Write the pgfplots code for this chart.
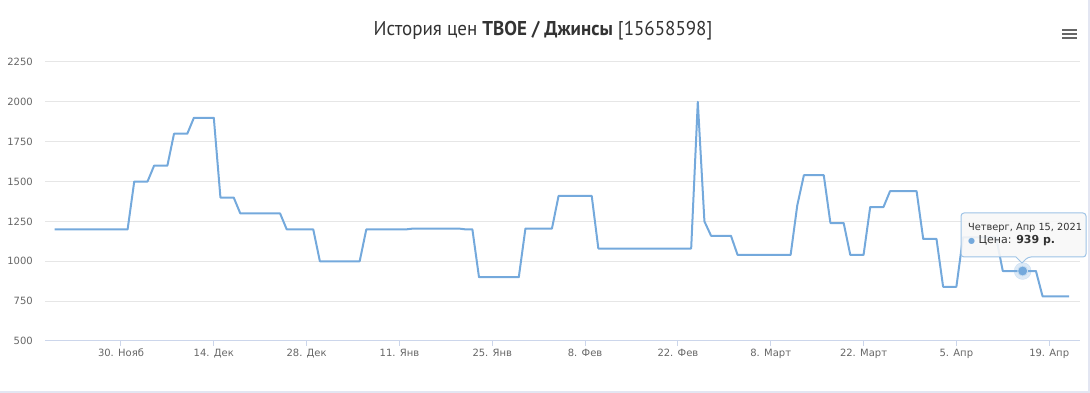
\documentclass[border=0pt]{standalone}
\usepackage{fontspec}
\setmainfont{DejaVu Sans}
\newfontfamily\titlefont[FakeStretch=0.95]{PT Sans}
\usepackage{pgfplots}
\pgfplotsset{compat=1.18}
\definecolor{hcblue}{HTML}{74A9DC}
\definecolor{gridc}{HTML}{E6E6E6}
\definecolor{axisc}{HTML}{CCD6EB}
\definecolor{labc}{HTML}{666666}
\definecolor{titc}{HTML}{333333}
\definecolor{framec}{HTML}{E3E6F2}
\definecolor{tipbg}{HTML}{F7F7F7}
\begin{document}
\begin{tikzpicture}[x=1pt,y=1pt]
\path[use as bounding box] (0,0) rectangle (1090,393);
\begin{axis}[
  at={(45pt,52pt)}, anchor=south west,
  scale only axis, width=1035pt, height=279pt,
  xmin=-11.46, xmax=144.65, ymin=500, ymax=2250,
  axis lines=left, axis line style={-},
  x axis line style={draw=axisc, line width=1pt},
  y axis line style={draw=none},
  ytick={500,750,...,2250},
  ymajorgrids, grid style={gridc, line width=1pt},
  xtick={0,14,...,140},
  xticklabels={30. Нояб,14. Дек,28. Дек,11. Янв,25. Янв,8. Фев,22. Фев,8. Март,22. Март,5. Апр,19. Апр},
  tick align=outside, major tick length=5pt,
  xtick style={draw=axisc, line width=1pt},
  ytick style={draw=none},
  /pgf/number format/assume math mode=true,
  /pgf/number format/1000 sep={},
  ticklabel style={font=\fontsize{10}{12}\selectfont, text=labc},
  yticklabel style={anchor=east, inner sep=0pt, xshift=-7pt},
  xticklabel style={anchor=north, inner sep=0pt, yshift=-3pt},
  clip=false,
]
\addplot[hcblue, line width=2pt, line join=round] coordinates {
(-10,1200)(1,1200)(2,1500)(4,1500)(5,1600)(7,1600)(8,1800)(10,1800)(11,1900)(14,1900)
(15,1400)(17,1400)(18,1300)(24,1300)(25,1200)(29,1200)(30,1000)(36,1000)(37,1200)(43,1200)
(44,1205)(51,1205)(52,1200)(53,1200)(54,900)(60,900)(61,1205)(65,1205)(66,1410)(71,1410)
(72,1080)(86,1080)(87,2000)(88,1250)(89,1160)(92,1160)(93,1040)(101,1040)(102,1350)(103,1540)
(106,1540)(107,1240)(109,1240)(110,1040)(112,1040)(113,1340)(115,1340)(116,1440)(120,1440)
(121,1140)(123,1140)(124,840)(126,840)(127,1150)(132,1150)(133,939)(138,939)(139,780)(143,780)
};
\addplot[hcblue, only marks, mark=*, mark size=8.5pt, mark options={solid, fill=hcblue, draw=none, opacity=0.25}] coordinates {(136,939)};
\addplot[hcblue, only marks, mark=*, mark size=5pt, mark options={solid, fill=hcblue, draw=hcblue!40, line width=0.8pt}] coordinates {(136,939)};
\end{axis}
% title
\node[text=titc, font=\titlefont\fontsize{20}{22}\selectfont] at (543,362) {История цен \textbf{ТВОЕ / Джинсы} [15658598]};
% menu icon
\foreach \yy in {363.3,359,354.7} \draw[labc, line width=2pt] (1062,\yy) -- (1076.5,\yy);
% tooltip
\filldraw[fill=tipbg, fill opacity=0.9, draw=hcblue!70!white, line width=1pt, rounded corners=3pt]
  (961,180) -- (1086,180) -- (1086,136) -- (1028,136) [sharp corners] -- (1022,130) -- (1016,136) [rounded corners=3pt] -- (961,136) -- cycle;
\node[anchor=west, text=titc, font=\fontsize{9.8}{11}\selectfont, inner sep=0pt] at (968,165.5) {Четверг, Апр 15, 2021};
\node[anchor=west, text=titc, font=\fontsize{11}{13}\selectfont, inner sep=0pt] at (968,152) {{\color{hcblue}\fontsize{8}{9}\selectfont●} Цена: \textbf{939 р.}};
% frame
\draw[framec, line width=2pt] (0,1) -- (1089,1) -- (1089,393);
\end{tikzpicture}
\end{document}
